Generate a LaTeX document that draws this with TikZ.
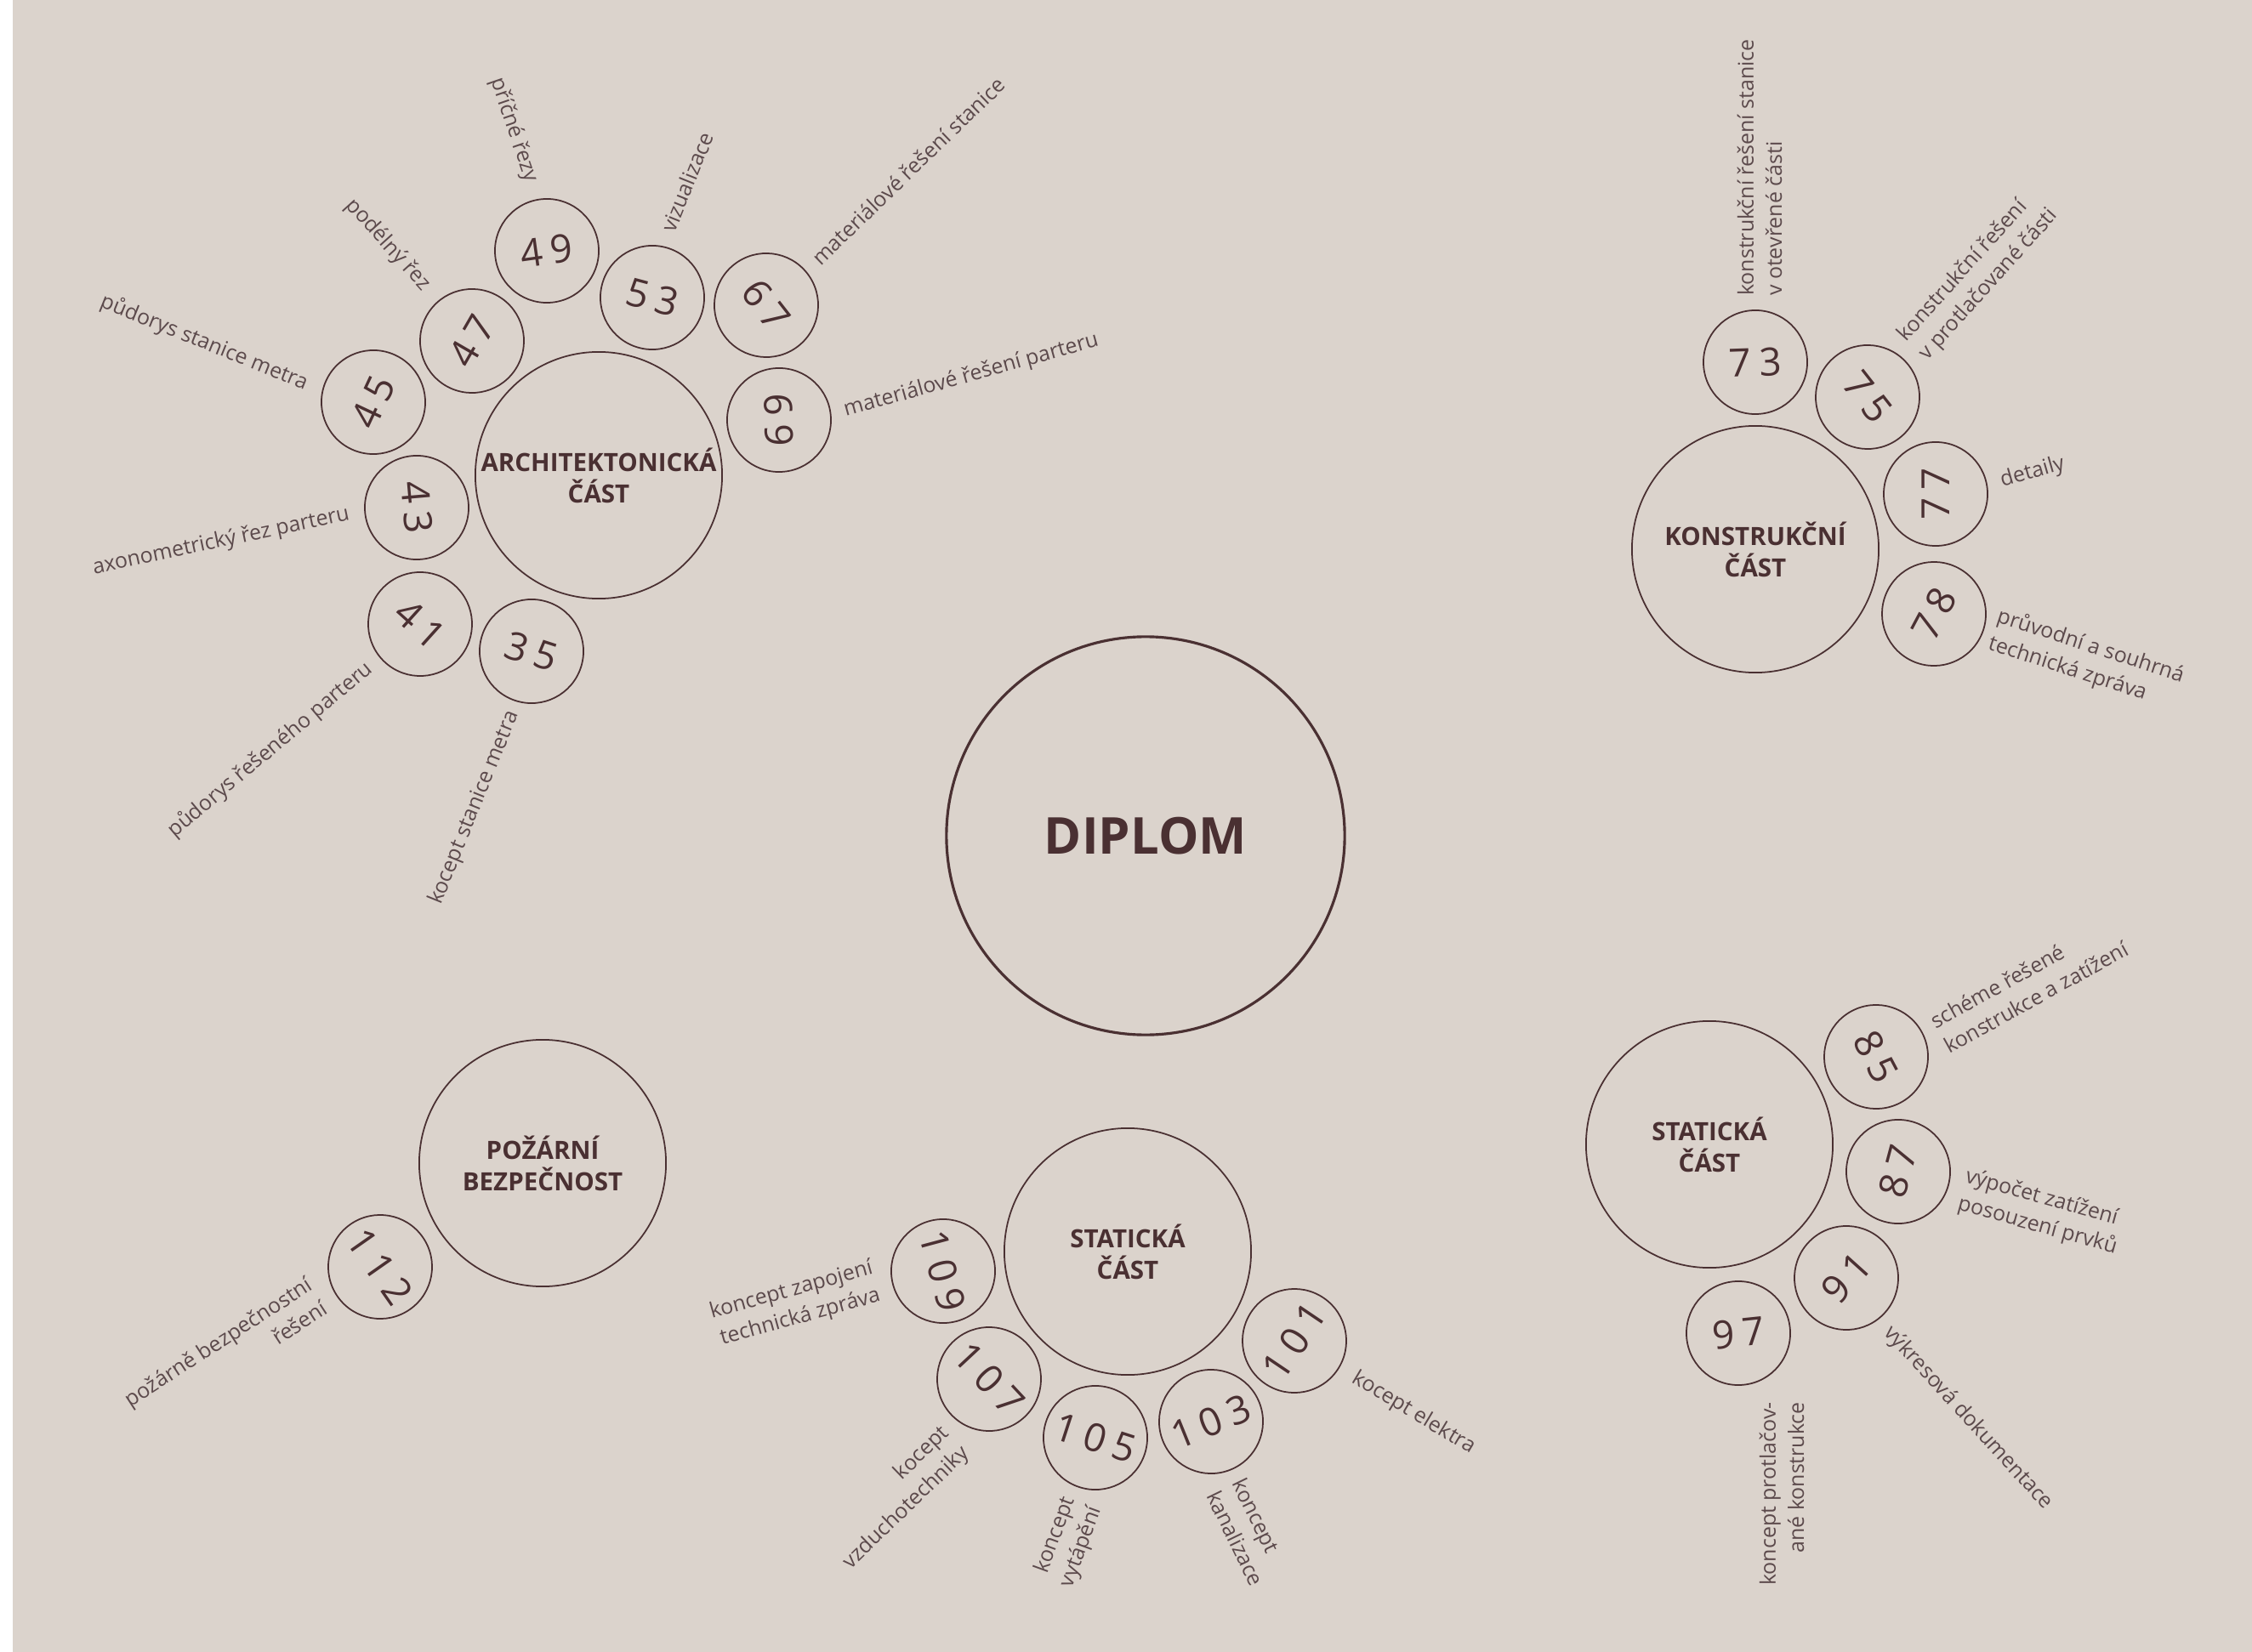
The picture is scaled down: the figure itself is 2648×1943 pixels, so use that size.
\documentclass[tikz,border=0pt]{standalone}
\usepackage{fontspec}
\setmainfont{Open Sans}
\newfontfamily\headfont{Open Sans}
\newfontfamily\numfont[LetterSpace=20]{Open Sans}

\definecolor{paper}{RGB}{219,211,204}
\definecolor{ink}{RGB}{74,48,50}
\definecolor{inklight}{RGB}{92,74,76}

\begin{document}
\begin{tikzpicture}[x=0.01cm, y=-0.01cm,
    maincirc/.style={circle, draw=ink, line width=0.9pt, minimum size=4.68cm, inner sep=0pt,
        text=ink, font=\headfont\bfseries\fontsize{17}{20}\selectfont},
    partcirc/.style={circle, draw=ink, line width=0.5pt, minimum size=2.9cm, inner sep=0pt,
        align=center, text=ink, font=\headfont\bfseries\fontsize{8.4}{10.5}\selectfont},
    pagecirc/.style={circle, draw=ink, line width=0.5pt, minimum size=1.22cm, inner sep=0pt,
        text=ink, font=\numfont\fontsize{13}{14}\selectfont},
    lbl/.style={inner sep=0pt, text=inklight, font=\fontsize{7.1}{9.5}\selectfont}]

    \useasboundingbox (0,0) rectangle (2648,1943);
    \fill[paper] (0,0) rectangle (2648,1943);
    \fill[white] (0,0) rectangle (15,1943);

    % Diplom
    \node[maincirc] (diplom) at (1347,983) {DIPLOM};

    % Architektonicka cast
    \node[partcirc] (arch) at (704,559) {ARCHITEKTONICKÁ\\ČÁST};
    \node[pagecirc, rotate=8] (p49) at (643,295) {49};
    \node[pagecirc, rotate=-15] (p53) at (767,350) {53};
    \node[pagecirc, rotate=-52] (p67) at (901,359) {67};
    \node[pagecirc, rotate=-88] (p69) at (916,494) {69};
    \node[pagecirc, rotate=60] (p47) at (555,401) {47};
    \node[pagecirc, rotate=65] (p45) at (439,473) {45};
    \node[pagecirc, rotate=-85] (p43) at (490,597) {43};
    \node[pagecirc, rotate=-42] (p41) at (494,734) {41};
    \node[pagecirc, rotate=-18] (p35) at (625,766) {35};

    \node[lbl, rotate=-71] (t49) at (604,153) {příčné řezy};
    \node[lbl, rotate=68] (t53) at (808,214) {vizualizace};
    \node[lbl, rotate=44] (t67) at (1068,201) {materiálové řešení stanice};
    \node[lbl, rotate=15.6] (t69) at (1142,442) {materiálové řešení parteru};
    \node[lbl, rotate=-48] (t47) at (456,288) {podélný řez};
    \node[lbl, rotate=-22] (t45) at (240,403) {půdorys stanice metra};
    \node[lbl, rotate=12] (t43) at (260,637) {axonometrický řez parteru};
    \node[lbl, rotate=40] (t41) at (318,882) {půdorys řešeného parteru};
    \node[lbl, rotate=68] (t35) at (558,950) {kocept stanice metra};

    % Konstrukcni cast
    \node[partcirc] (konstr) at (2064,646) {KONSTRUKČNÍ\\ČÁST};
    \node[pagecirc, rotate=2] (p73) at (2064,426) {73};
    \node[pagecirc, rotate=-52] (p75) at (2196,467) {75};
    \node[pagecirc, rotate=90] (p77) at (2276,581) {77};
    \node[pagecirc, rotate=62] (p78) at (2274,722) {78};

    \node[lbl, rotate=90, align=left] (t73) at (2069,197) {konstrukční řešení stanice\\v otevřené části};
    \node[lbl, rotate=48, align=left] (t75) at (2326,324) {konstrukční řešení\\v protlačované části};
    \node[lbl, rotate=16] (t77) at (2390,556) {detaily};
    \node[lbl, rotate=-18, align=left] (t78) at (2453,776) {průvodní a souhrná\\technická zpráva};

    % Staticka cast (vpravo)
    \node[partcirc] (stat) at (2010,1346) {STATICKÁ\\ČÁST};
    \node[pagecirc, rotate=-62] (p85) at (2206,1243) {85};
    \node[pagecirc, rotate=75] (p87) at (2232,1378) {87};
    \node[pagecirc, rotate=48] (p91) at (2171,1503) {91};
    \node[pagecirc, rotate=6] (p97) at (2044,1568) {97};

    \node[lbl, rotate=29, align=left] (t85) at (2386,1158) {schéme řešené\\konstrukce a zatížení};
    \node[lbl, rotate=-15.5, align=left] (t87) at (2400,1426) {výpočet zatížení\\posouzení prvků};
    \node[lbl, rotate=-47.6] (t91) at (2314,1668) {výkresová dokumentace};
    \node[lbl, rotate=90, align=right] (t97) at (2095,1757) {koncept protlačov-\\ané konstrukce};

    % Staticka cast (dole) - TZB
    \node[partcirc] (tzb) at (1326,1472) {STATICKÁ\\ČÁST};
    \node[pagecirc, rotate=-75] (p109) at (1109,1495) {109};
    \node[pagecirc, rotate=-47] (p107) at (1163,1622) {107};
    \node[pagecirc, rotate=-18] (p105) at (1288,1691) {105};
    \node[pagecirc, rotate=22] (p103) at (1424,1672) {103};
    \node[pagecirc, rotate=56] (p101) at (1522,1577) {101};

    \node[lbl, rotate=15.5, align=right] (t109) at (935,1534) {koncept zapojení\\technická zpráva};
    \node[lbl, rotate=44, align=right] (t107) at (1054,1762) {kocept\\vzduchotechniky};
    \node[lbl, rotate=70, align=right] (t105) at (1256,1814) {koncept\\vytápění};
    \node[lbl, rotate=-64, align=left] (t103) at (1468,1802) {koncept\\kanalizace};
    \node[lbl, rotate=-31] (t101) at (1662,1662) {kocept elektra};

    % Pozarni bezpecnost
    \node[partcirc] (pbs) at (638,1368) {POŽÁRNÍ\\BEZPEČNOST};
    \node[pagecirc, rotate=-55] (p112) at (447,1490) {112};

    \node[lbl, rotate=33, align=right] (t112) at (265,1592) {požárně bezpečnostní\\řešení};
\end{tikzpicture}
\end{document}
